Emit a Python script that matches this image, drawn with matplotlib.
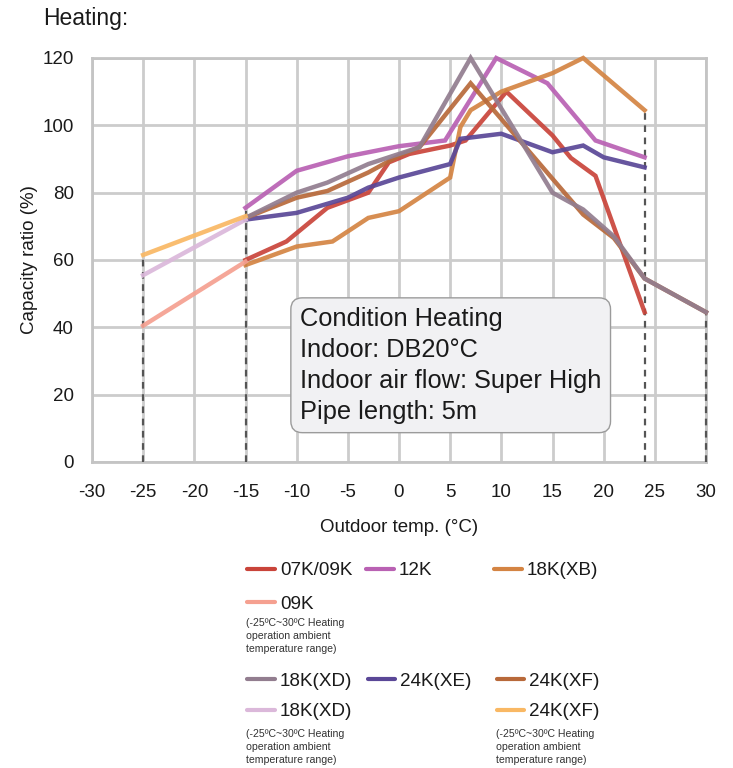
import matplotlib
matplotlib.use("Agg")
import matplotlib.pyplot as plt
from matplotlib.lines import Line2D

plt.rcParams['font.family'] = ['Liberation Sans', 'DejaVu Sans']

# ---------------- data ----------------
t_0709 = [-15, -11, -7, -3, -1, 1, 5, 6.5, 10.5, 15, 16.8, 19.2, 24]
v_0709 = [60, 65.5, 75.5, 80, 89, 91.5, 94, 95.5, 110, 97, 90.3, 85, 44.5]

t_12 = [-15, -10, -5, 0, 4.5, 9.5, 14.5, 19.2, 24]
v_12 = [75.5, 86.5, 90.8, 93.8, 95.5, 120, 112.5, 95.5, 90.5]

t_18xb = [-15, -10, -6.5, -3, 0, 2, 5, 6, 7, 10, 15, 18, 24]
v_18xb = [58.5, 64, 65.5, 72.5, 74.5, 78.5, 84.5, 99.5, 104.5, 110, 115.5, 120, 104.5]

t_09low = [-25, -15]
v_09low = [40.5, 59.5]

t_18xd = [-15, -10, -7, -3, 0, 2, 7, 15, 18, 21, 24, 30]
v_18xd = [72.5, 80, 83, 88.5, 91.5, 93.5, 120, 80, 75, 67, 54.5, 44.5]

t_24xe = [-15, -10, -5, -3, 0, 5, 6, 10, 15, 18, 20, 24]
v_24xe = [72, 74, 78.5, 81.5, 84.5, 88.5, 96, 97.5, 92, 94, 90.5, 87.5]

t_24xf = [-15, -10, -7, -3, 0, 2, 7, 18, 21, 24, 30]
v_24xf = [72.5, 78.5, 80.5, 86, 91, 93.5, 112.5, 73.5, 66.5, 54.5, 44.5]

t_18xdlow = [-25, -15]
v_18xdlow = [55.5, 72]

t_24xflow = [-25, -15]
v_24xflow = [61.5, 73]

limit_t = [-25, -15, 24, 30]
limit_v = [61.5, 75.5, 104.5, 44.5]

x_ticks = [-30, -25, -20, -15, -10, -5, 0, 5, 10, 15, 20, 25, 30]
y_ticks = [0, 20, 40, 60, 80, 100, 120]

condition_text = "Condition Heating\nIndoor: DB20°C\nIndoor air flow: Super High\nPipe length: 5m"
note_text = "(-25ºC~30ºC Heating\noperation ambient\ntemperature range)"

# ---------------- styles ----------------
C_0709 = '#c9443a'
C_12 = '#b961b3'
C_18XB = '#d48443'
C_09LOW = '#f5a090'
C_18XD = '#927d8f'
C_24XE = '#5a4797'
C_24XF = '#b8693a'
C_18XDLOW = '#dbb8da'
C_24XFLOW = '#f9b864'

W, H = 733, 768
fig = plt.figure(figsize=(W / 100, H / 100), dpi=100)
ax = fig.add_axes([92 / W, 1 - 462 / H, 614 / W, 404 / H])

LW = 3.2
AL = 0.92
TXT = '#1a1a1a'

# dashed limit lines
for t, v in zip(limit_t, limit_v):
    ax.plot([t, t], [0, v], color='#555555', lw=1.6, ls=(0, (3, 2.5)), zorder=2.8,
            clip_on=False)

series = [
    (t_0709, v_0709, C_0709),
    (t_12, v_12, C_12),
    (t_18xb, v_18xb, C_18XB),
    (t_09low, v_09low, C_09LOW),
    (t_24xe, v_24xe, C_24XE),
    (t_24xf, v_24xf, C_24XF),
    (t_18xd, v_18xd, C_18XD),
    (t_18xdlow, v_18xdlow, C_18XDLOW),
    (t_24xflow, v_24xflow, C_24XFLOW),
]
for t, v, c in series:
    ax.plot(t, v, color=c, lw=LW, alpha=AL, zorder=3, solid_joinstyle='miter', clip_on=False)

ax.set_xlim(-30, 30)
ax.set_ylim(0, 120)
ax.set_xticks(x_ticks)
ax.set_yticks(y_ticks)
ax.set_xticklabels([str(x) for x in x_ticks])
ax.set_yticklabels([str(y) for y in y_ticks])
ax.tick_params(axis='both', length=0, labelsize=13.5, colors=TXT)
ax.tick_params(axis='x', pad=16)
ax.tick_params(axis='y', pad=13)
ax.grid(True, color='#cccccc', lw=2.0, zorder=0)
ax.set_axisbelow(True)
for s in ax.spines.values():
    s.set_color('#c4c4c4')
    s.set_linewidth(2.0)

ax.set_xlabel('Outdoor temp. (°C)', fontsize=13.5, color=TXT, labelpad=13)
ax.set_ylabel('Capacity ratio (%)', fontsize=13.5, color=TXT, labelpad=3)

fig.text(43 / W, 1 - 25 / H, 'Heating:', fontsize=16.5, color=TXT, ha='left', va='baseline')

# condition box
fig.text(300 / W, 1 - 307 / H, condition_text, fontsize=18.3, color=TXT,
         ha='left', va='top', linespacing=1.36, zorder=10,
         bbox=dict(boxstyle='round,pad=0.36,rounding_size=0.45', fc='#f1f1f3', ec='#9b9b9b', lw=1.0))

# ---------------- legend (custom) ----------------
def leg(x0, x1, y_line, y_base, color, label):
    fig.add_artist(Line2D([x0 / W, x1 / W], [1 - y_line / H, 1 - y_line / H],
                          color=color, lw=3.0, solid_capstyle='round'))
    fig.text((x1 + 5) / W, 1 - y_base / H, label, fontsize=13.6, color=TXT,
             ha='left', va='baseline')

def note(x, y_base):
    for i, line in enumerate(note_text.split('\n')):
        fig.text(x / W, 1 - (y_base + 13 * i) / H, line, fontsize=7.6, color='#333333',
                 ha='left', va='baseline')

leg(247, 275, 569, 575, C_0709, '07K/09K')
leg(366, 394, 569, 575, C_12, '12K')
leg(494, 522, 569, 575, C_18XB, '18K(XB)')
leg(247, 275, 602, 609, C_09LOW, '09K')
note(246, 626)
leg(247, 275, 679, 686, C_18XD, '18K(XD)')
leg(368, 395, 679, 686, C_24XE, '24K(XE)')
leg(497, 524, 679, 686, C_24XF, '24K(XF)')
leg(247, 275, 710, 716, C_18XDLOW, '18K(XD)')
leg(497, 524, 710, 716, C_24XFLOW, '24K(XF)')
note(246, 737)
note(496, 737)

fig.savefig('out.png', dpi=100)
